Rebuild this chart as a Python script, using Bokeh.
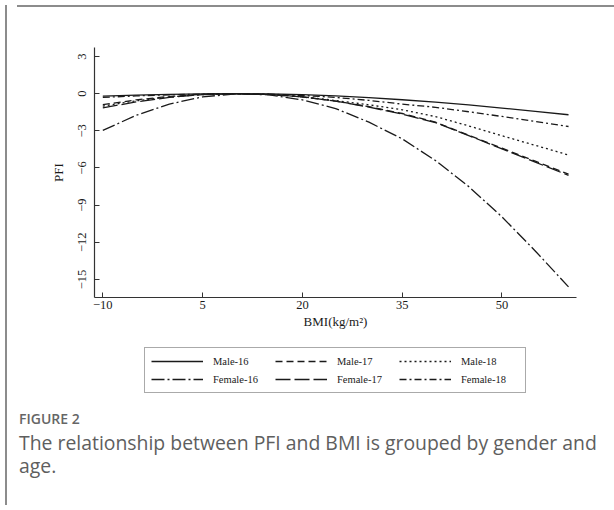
from bokeh.plotting import figure
from bokeh.models import Range1d, FixedTicker, Legend, LegendItem, Div
from bokeh.layouts import column, row
from bokeh.embed import file_html
from bokeh.resources import INLINE

# ---- data ----
bmi = [-10, -5, 0, 5, 10, 15, 20, 25, 30, 35, 40, 45, 50, 55, 60]
male_16 = [-0.20, -0.12, -0.06, -0.02, 0.00, -0.02, -0.08, -0.18, -0.32, -0.49, -0.68, -0.90, -1.16, -1.43, -1.70]
male_17 = [-0.89, -0.50, -0.22, -0.05, 0.00, -0.07, -0.26, -0.60, -1.05, -1.60, -2.30, -3.35, -4.40, -5.45, -6.50]
male_18 = [-1.00, -0.58, -0.27, -0.07, 0.00, -0.06, -0.25, -0.55, -0.90, -1.30, -1.85, -2.60, -3.40, -4.17, -4.95]
female_16 = [-2.97, -1.75, -0.84, -0.26, -0.01, -0.09, -0.50, -1.20, -2.30, -3.65, -5.40, -7.50, -9.95, -12.70, -15.60]
female_17 = [-1.15, -0.66, -0.30, -0.08, 0.00, -0.06, -0.25, -0.60, -1.08, -1.65, -2.33, -3.38, -4.46, -5.53, -6.60]
female_18 = [-0.30, -0.18, -0.09, -0.03, 0.00, -0.04, -0.14, -0.30, -0.54, -0.84, -1.10, -1.46, -1.84, -2.24, -2.65]

series_names = ["Male-16", "Male-17", "Male-18", "Female-16", "Female-17", "Female-18"]
series_values = [male_16, male_17, male_18, female_16, female_17, female_18]
x_ticks = [-10, 5, 20, 35, 50]
y_ticks = [3, 0, -3, -6, -9, -12, -15]

dashes = ["solid", "7 4", "2 3", "13 3 2 3", "15 4", "7 3 2 3"]
LINE = "#1a1a1a"
SERIF = "Liberation Serif"
GRAY = "#8c8c8c"

# ---- main chart ----
p = figure(width=604, height=335, output_backend="svg", toolbar_location=None,
           x_range=Range1d(-11.25, 61.2), y_range=Range1d(-16.46, 3.73),
           min_border_left=82, min_border_right=40, min_border_top=35, min_border_bottom=50)
p.outline_line_color = None
p.xgrid.visible = False
p.ygrid.visible = False

for vals, dash in zip(series_values, dashes):
    p.line(bmi, vals, line_color=LINE, line_width=1.3, line_dash=dash)

for ax in (p.xaxis[0], p.yaxis[0]):
    ax.axis_line_color = "#333333"
    ax.axis_line_width = 1.2
    ax.major_tick_line_color = "#333333"
    ax.major_tick_in = 5
    ax.major_tick_out = 0
    ax.minor_tick_line_color = None
    ax.major_label_text_font = SERIF
    ax.major_label_text_font_size = "12.5px"
    ax.major_label_text_color = LINE
    ax.axis_label_text_font = SERIF
    ax.axis_label_text_font_size = "13px"
    ax.axis_label_text_font_style = "normal"
    ax.axis_label_text_color = LINE

p.xaxis.ticker = FixedTicker(ticks=x_ticks)
p.yaxis.ticker = FixedTicker(ticks=y_ticks)
p.xaxis.axis_label = "BMI(kg/m²)"
p.yaxis.axis_label = "PFI"
p.xaxis.major_label_standoff = 3
p.xaxis.axis_label_standoff = 2
p.yaxis.major_label_orientation = "parallel"
p.yaxis.major_label_standoff = 8
p.yaxis.axis_label_standoff = 10

# ---- legend panel (same series, drawn off-screen; only the legend shows) ----
pl = figure(width=604, height=55, output_backend="svg", toolbar_location=None,
            x_axis_location=None, y_axis_location=None,
            x_range=Range1d(-11.25, 61.2), y_range=Range1d(100, 101),
            min_border_left=0, min_border_right=0, min_border_top=0, min_border_bottom=0)
pl.outline_line_color = None
pl.xgrid.visible = False
pl.ygrid.visible = False
items = []
for name, vals, dash in zip(series_names, series_values, dashes):
    r = pl.line(bmi, vals, line_color=LINE, line_width=1.3, line_dash=dash)
    items.append(LegendItem(label=name, renderers=[r]))

legend = Legend(items=items, orientation="horizontal", ncols=3, location=(50, 9))
legend.label_text_font = SERIF
legend.label_text_font_size = "10.5px"
legend.label_text_color = LINE
legend.glyph_width = 52
legend.glyph_height = 14
legend.label_height = 14
legend.label_standoff = 10
legend.label_width = 58
legend.spacing = 4
legend.padding = 6
legend.margin = 0
legend.border_line_color = "#555555"
legend.border_line_width = 1.5
pl.add_layout(legend, "center")

# ---- caption ----
caption = Div(width=604, height=100, text=(
    "<div style=\"font-family:'Open Sans'; color:#5e5e5e; padding-left:2px; width:598px;\">"
    "<div style='font-size:14px; font-weight:600; line-height:18px; margin-top:3px; color:#666666;'>FIGURE 2</div>"
    "<div style='font-size:19.4px; line-height:23px; margin-top:3px;'>The relationship between PFI and BMI is grouped by gender and age.</div>"
    "</div>"))

top_bar = Div(width=604, height=2, styles={"background-color": GRAY})
left_bar = Div(width=2, height=500, styles={"background-color": GRAY})

layout = row(left_bar, column(top_bar, p, pl, caption, spacing=0), spacing=0)

open("out.html", "w").write(file_html(layout, INLINE))
